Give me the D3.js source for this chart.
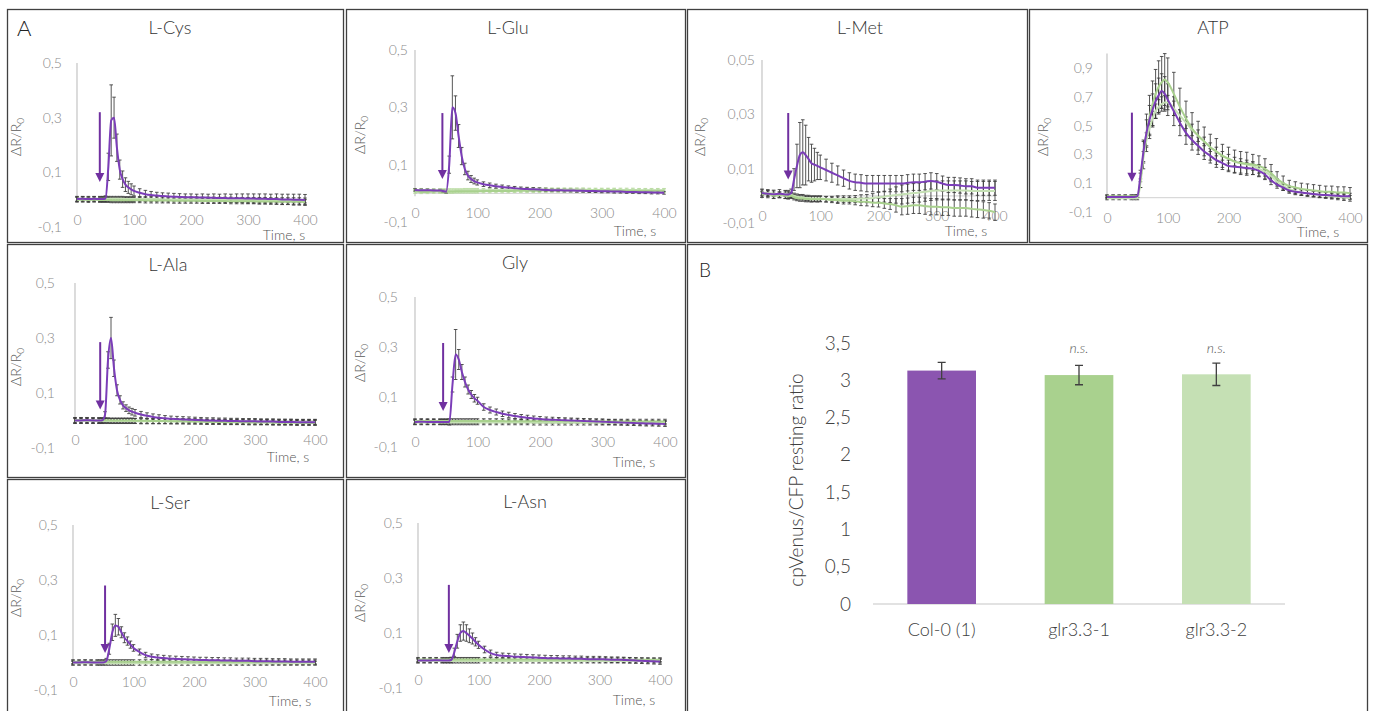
<!DOCTYPE html>
<html>
<head>
<meta charset="utf-8">
<script src="https://cdn.jsdelivr.net/npm/d3@7"></script>
<style>
  body { margin: 0; background: #fff; }
  svg { font-family: "Lato", "Open Sans", sans-serif; font-weight: 300; }
</style>
</head>
<body>
<svg id="figure" width="1375" height="711"></svg>
<script>
// sampling times (s) shared by every trace
const time = [0,10,20,30,40, 45,50,55,60,65,70,75,80,85,90,95,100, 110,120,130,140,150,160,170,180,190,200, 210,220,230,240,250,260,270,280,290,300, 310,320,330,340,350,360,370,380,390,400];

const panelTitles = ["L-Cys", "L-Glu", "L-Met", "ATP", "L-Ala", "Gly", "L-Ser", "L-Asn"];
const timeTicks = [0, 100, 200, 300, 400];
const aminoTicks = [-0.1, 0.1, 0.3, 0.5];
const metTicks = [-0.01, 0.01, 0.03, 0.05];
const atpTicks = [-0.1, 0.1, 0.3, 0.5, 0.7, 0.9];

// L-Cys
const cysCol = [0.002,0.003,0.002,0.003,0.002, 0.002,0.004,0.12,0.29,0.30,0.19,0.11,0.075,0.055,0.045,0.038,0.032, 0.025,0.02,0.017,0.015,0.013,0.012,0.011,0.010,0.009,0.009, 0.008,0.008,0.007,0.007,0.006,0.006,0.005,0.005,0.005,0.004, 0.004,0.003,0.003,0.002,0.002,0.001,0.001,0.0,0.0,-0.001];
const cysColErr = [0.008,0.008,0.008,0.008,0.008, 0.008,0.01,0.05,0.13,0.075,0.05,0.035,0.03,0.025,0.022,0.02,0.018, 0.015,0.014,0.013,0.012,0.012,0.012,0.012,0.012,0.012,0.012, 0.012,0.013,0.013,0.014,0.014,0.015,0.015,0.016,0.016,0.017, 0.017,0.018,0.018,0.018,0.019,0.019,0.019,0.02,0.02,0.02];
const cysGlr1 = [0.0,0.0,-0.001,0.0,-0.001, -0.001,-0.001,-0.001,-0.002,-0.002,-0.002,-0.002,-0.002,-0.002,-0.002,-0.002,-0.002, -0.002,-0.003,-0.003,-0.003,-0.003,-0.003,-0.004,-0.004,-0.004,-0.004, -0.004,-0.005,-0.005,-0.005,-0.005,-0.005,-0.006,-0.006,-0.006,-0.006, -0.006,-0.007,-0.007,-0.007,-0.007,-0.008,-0.008,-0.008,-0.008,-0.009];
const cysGlr2 = [0.003,0.003,0.003,0.003,0.003, 0.003,0.003,0.003,0.003,0.003,0.003,0.003,0.003,0.002,0.002,0.002,0.002, 0.002,0.002,0.002,0.002,0.001,0.001,0.001,0.001,0.001,0.001, 0.001,0.0,0.0,0.0,0.0,0.0,0.0,-0.001,-0.001,-0.001, -0.001,-0.001,-0.001,-0.002,-0.002,-0.002,-0.002,-0.002,-0.002,-0.003];
const cysGlrErr = 0.009;
const cysArrow = [40, 0.32, 0.065];

// L-Glu
const gluCol = [0.012,0.011,0.011,0.010,0.010, 0.008,0.006,0.10,0.30,0.28,0.20,0.13,0.085,0.062,0.05,0.043,0.038, 0.032,0.028,0.025,0.022,0.02,0.018,0.016,0.015,0.014,0.013, 0.012,0.011,0.011,0.010,0.010,0.009,0.009,0.008,0.008,0.007, 0.007,0.006,0.006,0.005,0.005,0.004,0.004,0.003,0.003,0.002];
const gluColErr = [0.004,0.004,0.004,0.004,0.004, 0.004,0.005,0.03,0.11,0.06,0.04,0.03,0.02,0.015,0.012,0.01,0.009, 0.008,0.008,0.007,0.007,0.006,0.006,0.006,0.006,0.006,0.006, 0.006,0.005,0.005,0.005,0.005,0.005,0.005,0.005,0.005,0.005, 0.005,0.005,0.005,0.005,0.005,0.005,0.005,0.005,0.005,0.005];
const gluGlr1 = [0.006,0.005,0.005,0.006,0.006, 0.006,0.006,0.006,0.006,0.007,0.007,0.007,0.007,0.007,0.007,0.007,0.007, 0.008,0.008,0.008,0.008,0.008,0.009,0.009,0.009,0.009,0.009, 0.010,0.010,0.010,0.010,0.010,0.010,0.010,0.010,0.010,0.010, 0.010,0.010,0.009,0.009,0.009,0.009,0.009,0.009,0.009,0.009];
const gluGlr2 = [0.011,0.011,0.010,0.010,0.010, 0.010,0.010,0.010,0.010,0.010,0.010,0.010,0.011,0.011,0.011,0.011,0.011, 0.011,0.011,0.012,0.012,0.012,0.012,0.012,0.013,0.013,0.013, 0.013,0.013,0.013,0.013,0.013,0.013,0.013,0.012,0.012,0.012, 0.012,0.012,0.012,0.012,0.012,0.011,0.011,0.011,0.011,0.011];
const gluGlrErr = 0.006;
const gluArrow = [44, 0.28, 0.05];

// L-Met
const metCol = [0.0010,0.0008,0.0006,0.0008,0.0005, 0.0005,0.0010,0.0060,0.0110,0.0150,0.0160,0.0150,0.0135,0.0120,0.0115,0.0110,0.0105, 0.0095,0.0085,0.0075,0.0065,0.0055,0.0050,0.0048,0.0045,0.0045,0.0045, 0.0045,0.0045,0.0045,0.0045,0.0048,0.0050,0.0050,0.0052,0.0055,0.0052, 0.0045,0.0040,0.0040,0.0038,0.0035,0.0035,0.0030,0.0030,0.0030,0.0030];
const metColErr = [0.0015,0.0015,0.0015,0.0015,0.0015, 0.0015,0.0015,0.004,0.008,0.012,0.012,0.011,0.008,0.007,0.006,0.005,0.0045, 0.004,0.0035,0.0035,0.003,0.003,0.003,0.003,0.003,0.003,0.003, 0.003,0.003,0.003,0.003,0.003,0.003,0.003,0.003,0.003,0.003, 0.0028,0.0028,0.0028,0.0028,0.0028,0.0028,0.0028,0.0028,0.0028,0.0028];
const metGlr1 = [0.0005,0.0008,0.0,0.0003,0.0, -0.0002,0.0,-0.0005,-0.0008,-0.0010,-0.0010,-0.0012,-0.0012,-0.0013,-0.0012,-0.0013,-0.0012, -0.0013,-0.0015,-0.0016,-0.0018,-0.0018,-0.0020,-0.0022,-0.0022,-0.0025,-0.0025, -0.0028,-0.0030,-0.0035,-0.0040,-0.0038,-0.0035,-0.0035,-0.0038,-0.0040,-0.0040, -0.0042,-0.0042,-0.0045,-0.0045,-0.0045,-0.0048,-0.0050,-0.0052,-0.0055,-0.0060];
const metGlr1Err = [0.001,0.001,0.001,0.001,0.001, 0.001,0.001,0.001,0.001,0.001,0.001,0.001,0.001,0.001,0.001,0.001,0.001, 0.001,0.001,0.0012,0.0012,0.0012,0.0013,0.0014,0.0015,0.0015,0.0016, 0.0018,0.002,0.0025,0.003,0.003,0.003,0.003,0.003,0.003,0.003, 0.003,0.003,0.003,0.003,0.003,0.003,0.003,0.003,0.003,0.003];
const metGlr2 = [0.0012,0.0010,0.0008,0.0005,0.0008, 0.0005,0.0003,0.0,-0.0003,-0.0005,-0.0005,-0.0008,-0.0008,-0.0010,-0.0010,-0.0010,-0.0010, -0.0012,-0.0012,-0.0012,-0.0012,-0.0012,-0.0012,-0.0010,-0.0010,-0.0008,-0.0005, -0.0003,0.0,0.0003,0.0005,0.0008,0.0010,0.0012,0.0015,0.0018,0.0020, 0.0020,0.0020,0.0020,0.0020,0.0020,0.0018,0.0018,0.0018,0.0018,0.0018];
const metGlr2Err = [0.001,0.001,0.001,0.001,0.001, 0.001,0.001,0.001,0.001,0.001,0.001,0.001,0.001,0.001,0.001,0.001,0.001, 0.001,0.001,0.0012,0.0012,0.0012,0.0013,0.0014,0.0015,0.0016,0.0018, 0.002,0.0025,0.003,0.0035,0.0035,0.0035,0.0035,0.0035,0.0035,0.0035, 0.0035,0.0035,0.0035,0.0035,0.0035,0.0035,0.0035,0.0035,0.0035,0.0035];
const metArrow = [45, 0.0305, 0.006];

// ATP
const atpCol = [0.005,0.005,0.004,0.005,0.005, 0.005,0.01,0.15,0.32,0.45,0.54,0.61,0.67,0.71,0.74,0.72,0.68, 0.60,0.52,0.45,0.40,0.36,0.32,0.29,0.26,0.24,0.22, 0.215,0.21,0.205,0.20,0.185,0.16,0.12,0.09,0.07,0.05, 0.04,0.035,0.03,0.025,0.02,0.018,0.015,0.012,0.01,0.01];
const atpColErr = [0.01,0.01,0.01,0.01,0.01, 0.01,0.01,0.04,0.07,0.09,0.1,0.11,0.12,0.12,0.12,0.12,0.11, 0.1,0.09,0.08,0.07,0.06,0.055,0.05,0.05,0.045,0.04, 0.04,0.04,0.04,0.04,0.04,0.035,0.03,0.025,0.02,0.02, 0.02,0.02,0.02,0.02,0.02,0.02,0.02,0.02,0.02,0.02];
const atpGlr1 = [0.01,0.01,0.01,0.01,0.01, 0.01,0.01,0.12,0.30,0.45,0.56,0.65,0.72,0.77,0.80,0.82,0.80, 0.72,0.63,0.55,0.48,0.43,0.39,0.35,0.32,0.29,0.27, 0.25,0.24,0.235,0.23,0.22,0.20,0.17,0.13,0.10,0.08, 0.07,0.06,0.055,0.05,0.045,0.04,0.04,0.035,0.035,0.03];
const atpGlr1Err = [0.01,0.01,0.01,0.01,0.01, 0.01,0.01,0.05,0.1,0.13,0.15,0.16,0.17,0.18,0.18,0.18,0.17, 0.15,0.13,0.12,0.11,0.1,0.1,0.09,0.09,0.08,0.08, 0.08,0.08,0.08,0.07,0.07,0.07,0.06,0.05,0.05,0.04, 0.04,0.04,0.04,0.04,0.04,0.04,0.04,0.04,0.04,0.04];
const atpGlr2 = [-0.005,-0.005,-0.005,-0.005,-0.005, -0.005,-0.005,0.10,0.28,0.40,0.48,0.55,0.60,0.63,0.65,0.66,0.66, 0.62,0.57,0.52,0.47,0.43,0.39,0.35,0.32,0.29,0.27, 0.25,0.24,0.23,0.22,0.20,0.18,0.15,0.11,0.08,0.06, 0.045,0.035,0.03,0.025,0.02,0.015,0.01,0.005,0.0,-0.005];
const atpGlr2Err = [0.01,0.01,0.01,0.01,0.01, 0.01,0.01,0.03,0.04,0.05,0.05,0.05,0.05,0.05,0.05,0.05,0.05, 0.05,0.04,0.04,0.04,0.04,0.03,0.03,0.03,0.03,0.03, 0.03,0.03,0.03,0.03,0.03,0.03,0.03,0.02,0.02,0.02, 0.02,0.02,0.02,0.02,0.02,0.02,0.02,0.02,0.02,0.02];
const atpArrow = [41, 0.59, 0.11];

// L-Ala
const alaCol = [0.0,0.0,0.001,0.0,0.0, 0.0,0.02,0.22,0.30,0.19,0.11,0.075,0.055,0.045,0.037,0.032,0.028, 0.022,0.017,0.013,0.010,0.008,0.006,0.005,0.004,0.003,0.002, 0.001,0.0,0.0,-0.001,-0.001,-0.002,-0.002,-0.003,-0.003,-0.003, -0.004,-0.004,-0.004,-0.005,-0.005,-0.005,-0.006,-0.006,-0.006,-0.006];
const alaColErr = [0.01,0.01,0.01,0.01,0.01, 0.01,0.012,0.03,0.075,0.03,0.02,0.015,0.013,0.012,0.012,0.012,0.012, 0.011,0.011,0.011,0.011,0.01,0.01,0.01,0.01,0.01,0.01, 0.01,0.01,0.01,0.01,0.01,0.01,0.01,0.01,0.01,0.01, 0.01,0.01,0.01,0.01,0.01,0.01,0.01,0.01,0.01,0.01];
const alaGlr1 = [0.002,0.002,0.001,0.001,0.001, 0.001,0.001,0.001,0.0,0.0,0.0,0.0,0.0,0.0,0.0,0.0,-0.001, -0.001,-0.001,-0.002,-0.002,-0.002,-0.003,-0.003,-0.003,-0.004,-0.004, -0.004,-0.005,-0.005,-0.005,-0.006,-0.006,-0.006,-0.006,-0.007,-0.007, -0.007,-0.007,-0.008,-0.008,-0.008,-0.008,-0.009,-0.009,-0.009,-0.009];
const alaGlr2 = [-0.002,-0.002,-0.002,-0.002,-0.002, -0.002,-0.002,-0.002,-0.002,-0.002,-0.002,-0.002,-0.002,-0.002,-0.002,-0.002,-0.002, -0.003,-0.003,-0.003,-0.003,-0.003,-0.003,-0.003,-0.003,-0.003,-0.003, -0.004,-0.004,-0.004,-0.004,-0.004,-0.004,-0.004,-0.004,-0.004,-0.004, -0.005,-0.005,-0.005,-0.005,-0.005,-0.005,-0.005,-0.005,-0.005,-0.005];
const alaGlrErr = 0.009;
const alaArrow = [42, 0.285, 0.04];

// Gly
const glyCol = [0.0,0.001,0.0,0.0,0.0, 0.0,0.0,0.0,0.15,0.27,0.25,0.20,0.16,0.13,0.11,0.095,0.085, 0.06,0.048,0.04,0.033,0.028,0.024,0.02,0.017,0.014,0.012, 0.01,0.009,0.008,0.007,0.006,0.005,0.004,0.003,0.002,0.001, 0.0,-0.001,-0.002,-0.003,-0.004,-0.005,-0.006,-0.006,-0.007,-0.008];
const glyColErr = [0.01,0.01,0.01,0.01,0.01, 0.01,0.01,0.012,0.03,0.1,0.04,0.03,0.02,0.018,0.016,0.015,0.014, 0.013,0.012,0.012,0.011,0.011,0.01,0.01,0.01,0.01,0.01, 0.01,0.01,0.01,0.01,0.01,0.01,0.01,0.01,0.01,0.01, 0.01,0.01,0.01,0.01,0.01,0.01,0.01,0.01,0.01,0.01];
const glyGlr1 = [0.004,0.004,0.004,0.004,0.004, 0.004,0.004,0.004,0.004,0.004,0.004,0.004,0.004,0.004,0.004,0.004,0.004, 0.004,0.004,0.004,0.004,0.003,0.003,0.003,0.003,0.003,0.003, 0.003,0.003,0.003,0.003,0.003,0.003,0.003,0.003,0.003,0.003, 0.002,0.002,0.002,0.002,0.002,0.002,0.002,0.002,0.002,0.002];
const glyGlr2 = [-0.002,-0.002,-0.002,-0.002,-0.002, -0.002,-0.002,-0.002,-0.002,-0.002,-0.002,-0.002,-0.002,-0.002,-0.002,-0.002,-0.002, -0.002,-0.002,-0.002,-0.002,-0.002,-0.002,-0.002,-0.002,-0.003,-0.003, -0.003,-0.003,-0.003,-0.003,-0.003,-0.003,-0.003,-0.003,-0.003,-0.003, -0.003,-0.003,-0.003,-0.003,-0.003,-0.003,-0.003,-0.003,-0.003,-0.003];
const glyGlrErr = 0.009;
const glyArrow = [45, 0.316, 0.044];

// L-Ser
const serCol = [0.0,0.0,0.001,0.0,0.0, 0.0,0.0,0.005,0.05,0.11,0.135,0.13,0.11,0.09,0.078,0.065,0.053, 0.038,0.027,0.021,0.018,0.016,0.014,0.013,0.012,0.011,0.010, 0.009,0.009,0.008,0.008,0.007,0.007,0.006,0.006,0.006,0.005, 0.005,0.005,0.004,0.004,0.004,0.003,0.003,0.003,0.003,0.003];
const serColErr = [0.008,0.008,0.008,0.008,0.008, 0.008,0.008,0.01,0.02,0.03,0.04,0.03,0.02,0.018,0.015,0.013,0.012, 0.011,0.01,0.01,0.01,0.01,0.01,0.01,0.01,0.01,0.01, 0.01,0.01,0.01,0.01,0.01,0.01,0.01,0.01,0.01,0.01, 0.01,0.01,0.01,0.01,0.01,0.01,0.01,0.01,0.01,0.01];
const serGlr1 = [0.003,0.003,0.003,0.003,0.003, 0.003,0.003,0.003,0.003,0.003,0.003,0.003,0.003,0.003,0.003,0.003,0.003, 0.003,0.003,0.003,0.003,0.003,0.003,0.003,0.003,0.003,0.003, 0.002,0.002,0.002,0.002,0.002,0.002,0.002,0.002,0.002,0.002, 0.002,0.002,0.002,0.002,0.002,0.002,0.002,0.002,0.002,0.002];
const serGlr2 = [-0.003,-0.003,-0.003,-0.003,-0.003, -0.003,-0.003,-0.003,-0.003,-0.003,-0.003,-0.003,-0.003,-0.003,-0.003,-0.003,-0.003, -0.003,-0.003,-0.003,-0.003,-0.003,-0.003,-0.003,-0.003,-0.003,-0.003, -0.003,-0.003,-0.003,-0.003,-0.003,-0.003,-0.003,-0.003,-0.003,-0.003, -0.003,-0.003,-0.003,-0.003,-0.003,-0.003,-0.003,-0.003,-0.003,-0.003];
const serGlrErr = 0.007;
const serArrow = [53, 0.28, 0.035];

// L-Asn
const asnCol = [0.0,0.0,0.0,0.001,0.0, 0.0,0.0,0.002,0.03,0.07,0.10,0.107,0.10,0.09,0.08,0.068,0.057, 0.04,0.027,0.02,0.017,0.016,0.014,0.013,0.012,0.011,0.010, 0.009,0.008,0.008,0.007,0.007,0.006,0.006,0.005,0.005,0.005, 0.004,0.003,0.003,0.002,0.001,0.0,-0.001,-0.002,-0.003,-0.004];
const asnColErr = [0.008,0.008,0.008,0.008,0.008, 0.008,0.008,0.01,0.015,0.025,0.03,0.033,0.03,0.025,0.02,0.015,0.013, 0.012,0.011,0.01,0.01,0.01,0.01,0.01,0.01,0.01,0.01, 0.01,0.01,0.01,0.01,0.01,0.01,0.01,0.01,0.01,0.01, 0.01,0.01,0.01,0.01,0.01,0.01,0.01,0.01,0.01,0.01];
const asnGlr1 = [0.004,0.004,0.004,0.004,0.004, 0.004,0.004,0.004,0.004,0.004,0.004,0.004,0.004,0.004,0.004,0.004,0.004, 0.004,0.004,0.004,0.004,0.004,0.004,0.004,0.004,0.004,0.004, 0.003,0.003,0.003,0.003,0.003,0.003,0.003,0.003,0.003,0.003, 0.003,0.003,0.003,0.003,0.003,0.003,0.003,0.003,0.003,0.003];
const asnGlr2 = [-0.002,-0.002,-0.002,-0.002,-0.002, -0.002,-0.002,-0.002,-0.002,-0.002,-0.002,-0.002,-0.002,-0.002,-0.002,-0.002,-0.002, -0.002,-0.002,-0.002,-0.002,-0.002,-0.002,-0.002,-0.002,-0.002,-0.002, -0.002,-0.002,-0.002,-0.002,-0.002,-0.002,-0.002,-0.002,-0.002,-0.002, -0.002,-0.002,-0.002,-0.002,-0.002,-0.002,-0.002,-0.002,-0.002,-0.002];
const asnGlrErr = 0.007;
const asnArrow = [51, 0.275, 0.027];

// panel B
const genotypes = ["Col-0 (1)", "glr3.3-1", "glr3.3-2"];
const restingRatio = [3.13, 3.07, 3.08];
const restingRatioErr = [0.11, 0.13, 0.15];
const significance = ["", "n.s.", "n.s."];
const ratioTicks = [0, 0.5, 1, 1.5, 2, 2.5, 3, 3.5];

// ---- layout (pixels) ----
const panelLayout = [
  { box: [7.5, 9.5, 336, 233], x: [77, 305], y: [227, 63], tickGap: 15, title: [170, 34], time: [284, 240], yTitle: [17, 137] },
  { box: [346.5, 9.5, 339, 233], x: [415, 664], y: [222, 50], tickGap: 7, title: [508, 34], time: [635, 236], yTitle: [361, 135] },
  { box: [687.5, 9.5, 340, 233], x: [762, 995], y: [223, 60], tickGap: 7, title: [860, 34], time: [966, 236], yTitle: [701, 137] },
  { box: [1029.5, 9.5, 338, 233], x: [1107, 1350], y: [212, 53.6], tickGap: 14, title: [1213, 34], time: [1318, 237], yTitle: [1044, 137] },
  { box: [7.5, 244.5, 336, 233], x: [75, 315], y: [448, 283], tickGap: 20, title: [168, 271], time: [288, 462], yTitle: [17, 367] },
  { box: [346.5, 244.5, 339, 233], x: [415, 665], y: [447, 297], tickGap: 17, title: [515, 269], time: [634, 467], yTitle: [361, 363] },
  { box: [7.5, 479.5, 336, 240], x: [73, 315], y: [690, 525], tickGap: 15, title: [170, 509], time: [290, 706], yTitle: [17, 598] },
  { box: [346.5, 479.5, 339, 240], x: [418, 660], y: [688, 523], tickGap: 15, title: [525, 508], time: [634, 705], yTitle: [361, 603] }
];

const colors = {
  col: "#7b3db8",
  glr1: "#a9d18e",
  glr2: "#c5e0b4",
  arrow: "#7030a0",
  err: "#3a3a3a",
  colBar: "#8b55b0"
};

const locale = d3.formatLocale({ decimal: ",", thousands: ".", grouping: [3], currency: ["", ""], minus: "-" });

const panels = [
  { col: cysCol, colErr: cysColErr, glr1: cysGlr1, glr1Err: cysGlrErr, glr2: cysGlr2, glr2Err: cysGlrErr, arrow: cysArrow, ticks: aminoTicks, domain: [-0.1, 0.5], fmt: ".1f" },
  { col: gluCol, colErr: gluColErr, glr1: gluGlr1, glr1Err: gluGlrErr, glr2: gluGlr2, glr2Err: gluGlrErr, arrow: gluArrow, ticks: aminoTicks, domain: [-0.1, 0.5], fmt: ".1f", greenErr: "#b5d99c" },
  { col: metCol, colErr: metColErr, glr1: metGlr1, glr1Err: metGlr1Err, glr2: metGlr2, glr2Err: metGlr2Err, arrow: metArrow, ticks: metTicks, domain: [-0.01, 0.05], fmt: ".2f" },
  { col: atpCol, colErr: atpColErr, glr1: atpGlr1, glr1Err: atpGlr1Err, glr2: atpGlr2, glr2Err: atpGlr2Err, arrow: atpArrow, ticks: atpTicks, domain: [-0.1, 1.0], fmt: ".1f" },
  { col: alaCol, colErr: alaColErr, glr1: alaGlr1, glr1Err: alaGlrErr, glr2: alaGlr2, glr2Err: alaGlrErr, arrow: alaArrow, ticks: aminoTicks, domain: [-0.1, 0.5], fmt: ".1f" },
  { col: glyCol, colErr: glyColErr, glr1: glyGlr1, glr1Err: glyGlrErr, glr2: glyGlr2, glr2Err: glyGlrErr, arrow: glyArrow, ticks: aminoTicks, domain: [-0.1, 0.5], fmt: ".1f" },
  { col: serCol, colErr: serColErr, glr1: serGlr1, glr1Err: serGlrErr, glr2: serGlr2, glr2Err: serGlrErr, arrow: serArrow, ticks: aminoTicks, domain: [-0.1, 0.5], fmt: ".1f" },
  { col: asnCol, colErr: asnColErr, glr1: asnGlr1, glr1Err: asnGlrErr, glr2: asnGlr2, glr2Err: asnGlrErr, arrow: asnArrow, ticks: aminoTicks, domain: [-0.1, 0.5], fmt: ".1f" }
];

function errAt(err, i) {
  return Array.isArray(err) ? err[i] : err;
}

function getPanelScales(panel, layout) {
  const xScale = d3.scaleLinear().domain([0, 400]).range(layout.x);
  const yScale = d3.scaleLinear().domain(panel.domain).range(layout.y);
  return { xScale, yScale };
}

function drawFrame(svg, box) {
  svg.append("rect")
    .attr("x", box[0]).attr("y", box[1])
    .attr("width", box[2]).attr("height", box[3])
    .attr("fill", "#fff")
    .attr("stroke", "#404040")
    .attr("stroke-width", 1.3);
}

// d3 axes put their own font on the group; let the page font through
function plainAxis(a) {
  a.attr("font-family", null).attr("font-size", null);
  a.select(".domain").remove();
}

function drawPanelAxes(g, panel, layout, scales) {
  const { xScale, yScale } = scales;
  const y0 = yScale(0);

  // zero line and the vertical axis line
  g.append("line")
    .attr("x1", xScale(0)).attr("x2", xScale(400))
    .attr("y1", y0).attr("y2", y0)
    .attr("stroke", "#d9d9d9").attr("stroke-width", 1.2);
  g.append("line")
    .attr("x1", xScale(0)).attr("x2", xScale(0))
    .attr("y1", yScale(panel.domain[1])).attr("y2", y0 + 3)
    .attr("stroke", "#c4c4c4").attr("stroke-width", 1.2);

  const axisY = d3.axisLeft(yScale)
    .tickValues(panel.ticks)
    .tickSize(0)
    .tickPadding(layout.tickGap)
    .tickFormat(locale.format(panel.fmt));
  g.append("g")
    .attr("transform", `translate(${xScale(0)},0)`)
    .call(axisY)
    .call(plainAxis)
    .selectAll("text")
    .attr("fill", "#8a8a8a")
    .style("font-size", "14px");

  const axisX = d3.axisBottom(xScale)
    .tickValues(timeTicks)
    .tickSize(0)
    .tickPadding(0)
    .tickFormat(d3.format("d"));
  g.append("g")
    .attr("transform", `translate(0,${y0 + 15})`)
    .call(axisX)
    .call(plainAxis)
    .selectAll("text")
    .attr("fill", "#8a8a8a")
    .style("font-size", "14px");

  g.append("text")
    .attr("x", layout.time[0]).attr("y", layout.time[1])
    .attr("text-anchor", "middle")
    .attr("fill", "#555")
    .style("font-size", "14px")
    .text("Time, s");

  const yt = g.append("text")
    .attr("text-anchor", "middle")
    .attr("transform", `translate(${layout.yTitle[0] + 4},${layout.yTitle[1]})rotate(-90)`)
    .attr("fill", "#595959")
    .style("font-size", "14px");
  yt.append("tspan").text("\u0394R/R");
  yt.append("tspan").attr("dy", 3).style("font-size", "10px").text("0");

  g.append("text")
    .attr("x", layout.title[0]).attr("y", layout.title[1])
    .attr("text-anchor", "middle")
    .attr("fill", "#333")
    .style("font-size", "18px")
    .text(panel.title);
}

function errorBarPath(values, errors, scales, cap) {
  const { xScale, yScale } = scales;
  let d = "";
  values.forEach((v, i) => {
    const e = errAt(errors, i);
    const x = xScale(time[i]);
    const top = yScale(v + e);
    const bot = yScale(v - e);
    d += `M${x},${top}V${bot}M${x - cap},${top}h${cap * 2}M${x - cap},${bot}h${cap * 2}`;
  });
  return d;
}

function drawTraces(g, panel, scales) {
  const { xScale, yScale } = scales;
  const line = d3.line()
    .x((d, i) => xScale(time[i]))
    .y(d => yScale(d))
    .curve(d3.curveMonotoneX);

  const greenErr = panel.greenErr || colors.err;
  g.append("path").attr("d", errorBarPath(panel.glr2, panel.glr2Err, scales, 1.8))
    .attr("stroke", greenErr).attr("stroke-width", 1).attr("fill", "none").attr("opacity", 0.85);
  g.append("path").attr("d", errorBarPath(panel.glr1, panel.glr1Err, scales, 1.8))
    .attr("stroke", greenErr).attr("stroke-width", 1).attr("fill", "none").attr("opacity", 0.85);
  g.append("path").attr("d", errorBarPath(panel.col, panel.colErr, scales, 1.8))
    .attr("stroke", colors.err).attr("stroke-width", 1).attr("fill", "none").attr("opacity", 0.85);

  g.append("path").datum(panel.glr2).attr("d", line)
    .attr("fill", "none").attr("stroke", colors.glr2).attr("stroke-width", 2);
  g.append("path").datum(panel.glr1).attr("d", line)
    .attr("fill", "none").attr("stroke", colors.glr1).attr("stroke-width", 2);
  g.append("path").datum(panel.col).attr("d", line)
    .attr("fill", "none").attr("stroke", colors.col).attr("stroke-width", 2);
}

function drawArrow(g, panel, scales) {
  const { xScale, yScale } = scales;
  const [t, top, bottom] = panel.arrow;
  const x = xScale(t);
  const yTop = yScale(top);
  const yBot = yScale(bottom);
  g.append("line")
    .attr("x1", x).attr("x2", x)
    .attr("y1", yTop).attr("y2", yBot - 8)
    .attr("stroke", colors.arrow).attr("stroke-width", 2);
  g.append("path")
    .attr("d", `M${x - 4.5},${yBot - 9}L${x + 4.5},${yBot - 9}L${x},${yBot}Z`)
    .attr("fill", colors.arrow);
}

function drawRatioPanel(svg) {
  drawFrame(svg, [687.5, 244.5, 680, 480]);

  svg.append("text")
    .attr("x", 699).attr("y", 277)
    .attr("fill", "#222")
    .style("font-size", "19px")
    .text("B");

  const xScale = d3.scaleBand()
    .domain(genotypes)
    .range([873, 1285])
    .paddingInner(0.5)
    .paddingOuter(0.25);
  const yScale = d3.scaleLinear().domain([0, 3.5]).range([604, 343]);
  const barColors = [colors.colBar, colors.glr1, colors.glr2];

  svg.append("line")
    .attr("x1", 873).attr("x2", 1285)
    .attr("y1", yScale(0)).attr("y2", yScale(0))
    .attr("stroke", "#d9d9d9").attr("stroke-width", 1.3);

  svg.append("g").selectAll("rect")
    .data(restingRatio)
    .join("rect")
    .attr("x", (d, i) => xScale(genotypes[i]))
    .attr("width", xScale.bandwidth())
    .attr("y", d => yScale(d))
    .attr("height", d => yScale(0) - yScale(d))
    .attr("fill", (d, i) => barColors[i]);

  const err = svg.append("g").attr("stroke", "#404040").attr("stroke-width", 1.3);
  restingRatio.forEach((v, i) => {
    const cx = xScale(genotypes[i]) + xScale.bandwidth() / 2;
    const top = yScale(v + restingRatioErr[i]);
    const bot = yScale(v - restingRatioErr[i]);
    err.append("path")
      .attr("d", `M${cx},${top}V${bot}M${cx - 4},${top}h8M${cx - 4},${bot}h8`)
      .attr("fill", "none");
  });

  svg.append("g").selectAll("text")
    .data(significance)
    .join("text")
    .attr("x", (d, i) => xScale(genotypes[i]) + xScale.bandwidth() / 2)
    .attr("y", 353)
    .attr("text-anchor", "middle")
    .attr("fill", "#595959")
    .style("font-size", "14px")
    .style("font-style", "italic")
    .text(d => d);

  const axisY = d3.axisLeft(yScale)
    .tickValues(ratioTicks)
    .tickSize(0)
    .tickPadding(22)
    .tickFormat(locale.format(".1~f"));
  svg.append("g")
    .attr("transform", "translate(873,0)")
    .call(axisY)
    .call(plainAxis)
    .selectAll("text")
    .attr("fill", "#404040")
    .style("font-size", "19px");

  const axisX = d3.axisBottom(xScale).tickSize(0).tickPadding(0);
  svg.append("g")
    .attr("transform", "translate(0,623)")
    .call(axisX)
    .call(plainAxis)
    .selectAll("text")
    .attr("fill", "#404040")
    .style("font-size", "18px");

  svg.append("text")
    .attr("text-anchor", "middle")
    .attr("transform", "translate(803,480)rotate(-90)")
    .attr("fill", "#404040")
    .style("font-size", "19px")
    .text("cpVenus/CFP resting ratio");
}

function renderFigure() {
  const svg = d3.select("#figure");

  panels.forEach((panel, idx) => {
    panel.title = panelTitles[idx];
    const layout = panelLayout[idx];
    drawFrame(svg, layout.box);
    const g = svg.append("g");
    const scales = getPanelScales(panel, layout);
    drawPanelAxes(g, panel, layout, scales);
    drawTraces(g, panel, scales);
    drawArrow(g, panel, scales);
  });

  svg.append("text")
    .attr("x", 17).attr("y", 36)
    .attr("fill", "#222")
    .style("font-size", "22px")
    .text("A");

  drawRatioPanel(svg);
}

renderFigure();
</script>
</body>
</html>
